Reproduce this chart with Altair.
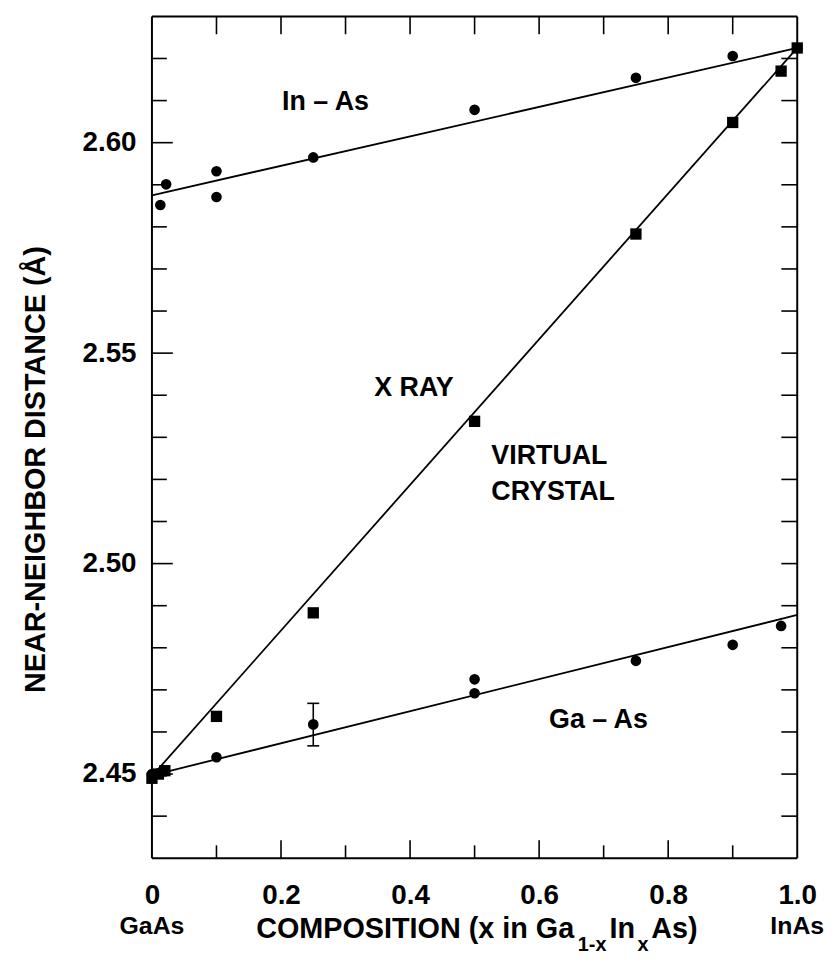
import altair as alt
import pandas as pd

FONT = "Liberation Sans"
W, H = 650, 848

# ---- data ----
inas_x = [0.013, 0.022, 0.1, 0.1, 0.25, 0.5, 0.75, 0.9, 1.0]
inas_y = [2.5852, 2.5901, 2.5932, 2.5871, 2.5965, 2.6078, 2.6154, 2.6206, 2.6225]

gaas_x = [0.0, 0.01, 0.02, 0.1, 0.25, 0.5, 0.5, 0.75, 0.9, 0.975]
gaas_y = [2.4500, 2.4502, 2.4506, 2.4540, 2.4618, 2.4725, 2.4692, 2.4769, 2.4807, 2.4852]

xray_x = [0.0, 0.01, 0.02, 0.1, 0.25, 0.5, 0.75, 0.9, 0.975, 1.0]
xray_y = [2.4490, 2.4500, 2.4508, 2.4637, 2.4883, 2.5338, 2.5783, 2.6048, 2.6170, 2.6225]

fit_x = [0.0, 1.0]
inas_fit = [2.5875, 2.6225]
xray_fit = [2.4495, 2.6225]
gaas_fit = [2.4497, 2.4878]

err_x = [0.25]
err_lo = [2.4567]
err_hi = [2.4668]

x_label_vals = [0.0, 0.2, 0.4, 0.6, 0.8, 1.0]
x_tick_major = [0.2, 0.4, 0.6, 0.8]
x_tick_minor = [0.1, 0.3, 0.5, 0.7, 0.9]
y_label_vals = [2.45, 2.50, 2.55, 2.60]
y_tick_minor = [2.44, 2.46, 2.47, 2.48, 2.49, 2.51, 2.52, 2.53, 2.54,
                2.56, 2.57, 2.58, 2.59, 2.61, 2.62]

note_text = ["In \u2013 As", "X RAY", "Ga \u2013 As"]
note_x = [0.269, 0.406, 0.692]
note_y = [2.6097, 2.5418, 2.4628]
vc_text = ["VIRTUAL", "CRYSTAL"]
vc_x = [0.526, 0.526]
vc_y = [2.5255, 2.5170]

end_text = ["GaAs", "InAs"]
end_x = [0.0, 1.0]

# ---- encodings ----
X = alt.X("x:Q", scale=alt.Scale(domain=[0, 1], nice=False),
          axis=alt.Axis(values=x_label_vals,
                        labelExpr="datum.value == 0 ? '0' : format(datum.value, '.1f')",
                        ticks=False, domain=False, grid=False, labelFlush=False,
                        labelFont=FONT, labelFontSize=28, labelFontWeight="bold",
                        labelColor="black", labelPadding=24, title=None))
Y = alt.Y("y:Q", scale=alt.Scale(domain=[2.43, 2.63], nice=False, zero=False),
          axis=alt.Axis(values=y_label_vals, format=".2f",
                        ticks=False, domain=False, grid=False,
                        labelFont=FONT, labelFontSize=28, labelFontWeight="bold",
                        labelColor="black", labelPadding=16,
                        title="NEAR-NEIGHBOR DISTANCE (\u00c5)",
                        titleFont=FONT, titleFontSize=29, titleFontWeight="bold",
                        titleColor="black", titleAngle=270, titleX=-117, titleY=456,
                        titleAlign="center", titleBaseline="middle"))

def df(**cols):
    return pd.DataFrame(cols)

layers = []

# frame
FRAME = dict(color="black", strokeWidth=2)
frame_src = df(k=[0])
layers.append(alt.Chart(frame_src).mark_rule(**FRAME).encode(
    x=alt.value(0), y=alt.value(0), y2=alt.value(H)))
layers.append(alt.Chart(frame_src).mark_rule(**FRAME).encode(
    x=alt.value(W), y=alt.value(0), y2=alt.value(H)))
layers.append(alt.Chart(frame_src).mark_rule(**FRAME).encode(
    y=alt.value(0), x=alt.value(0), x2=alt.value(W)))
layers.append(alt.Chart(frame_src).mark_rule(**FRAME).encode(
    y=alt.value(H), x=alt.value(0), x2=alt.value(W)))

# fitted lines
for fy in (inas_fit, xray_fit, gaas_fit):
    layers.append(alt.Chart(df(x=fit_x, y=fy)).mark_line(color="black", strokeWidth=1.8)
                  .encode(x=X, y=Y))

# data points
layers.append(alt.Chart(df(x=inas_x, y=inas_y)).mark_point(
    shape="circle", filled=True, size=115, color="black", opacity=1).encode(x=X, y=Y))
layers.append(alt.Chart(df(x=gaas_x, y=gaas_y)).mark_point(
    shape="circle", filled=True, size=115, color="black", opacity=1).encode(x=X, y=Y))
layers.append(alt.Chart(df(x=xray_x, y=xray_y)).mark_point(
    shape="square", filled=True, size=130, color="black", opacity=1).encode(x=X, y=Y))

# error bar
layers.append(alt.Chart(df(x=err_x, y=err_lo, y2=err_hi)).mark_rule(
    color="black", strokeWidth=1.6).encode(x=X, y=Y, y2="y2:Q"))
layers.append(alt.Chart(df(x=err_x + err_x, y=err_lo + err_hi)).mark_tick(
    orient="horizontal", size=12, thickness=1.6, color="black", opacity=1).encode(x=X, y=Y))

# inward ticks
RULE = dict(color="black", strokeWidth=1.6)
layers.append(alt.Chart(df(x=x_tick_major)).mark_rule(**RULE).encode(
    x=X, y=alt.value(H), y2=alt.value(H - 18)))
layers.append(alt.Chart(df(x=x_tick_minor)).mark_rule(**RULE).encode(
    x=X, y=alt.value(H), y2=alt.value(H - 13)))
layers.append(alt.Chart(df(x=x_tick_major + x_tick_minor)).mark_rule(**RULE).encode(
    x=X, y=alt.value(0), y2=alt.value(18)))
layers.append(alt.Chart(df(y=y_label_vals)).mark_rule(**RULE).encode(
    y=Y, x=alt.value(0), x2=alt.value(21)))
layers.append(alt.Chart(df(y=y_tick_minor)).mark_rule(**RULE).encode(
    y=Y, x=alt.value(0), x2=alt.value(15)))
layers.append(alt.Chart(df(y=y_label_vals + y_tick_minor)).mark_rule(**RULE).encode(
    y=Y, x=alt.value(W), x2=alt.value(W - 16)))

# annotations inside plot
layers.append(alt.Chart(df(x=note_x, y=note_y, t=note_text)).mark_text(
    font=FONT, fontSize=27, fontWeight="bold", color="black", align="center",
    baseline="middle").encode(x=X, y=Y, text="t:N"))
layers.append(alt.Chart(df(x=vc_x, y=vc_y, t=vc_text)).mark_text(
    font=FONT, fontSize=27, fontWeight="bold", color="black", align="left",
    baseline="middle").encode(x=X, y=Y, text="t:N"))

# end-member labels under axis
layers.append(alt.Chart(df(x=end_x, t=end_text)).mark_text(
    font=FONT, fontSize=25, fontWeight="bold", color="black", align="center",
    baseline="alphabetic").encode(x=X, y=alt.value(H + 76), text="t:N"))

# x-axis title with subscripts
title_parts = [
    ("COMPOSITION (x in Ga", 105, 928, 29),
    ("1-x", 429, 941, 20),
    ("In", 461, 928, 29),
    ("x", 489, 941, 20),
    ("As)", 503, 928, 29),
]
for txt, px, py, fs in title_parts:
    layers.append(alt.Chart(df(t=[txt])).mark_text(
        font=FONT, fontSize=fs, fontWeight="bold", color="black", align="left",
        baseline="alphabetic").encode(x=alt.value(px), y=alt.value(py), text="t:N"))

chart = alt.layer(*layers).properties(
    width=W, height=H,
    autosize=alt.AutoSizeParams(type="none"),
    padding={"left": 145, "top": 5, "right": 32, "bottom": 93},
).configure(background="white").configure_view(stroke=None)

chart.save("out.html", embed_options={"renderer": "svg", "actions": False})
